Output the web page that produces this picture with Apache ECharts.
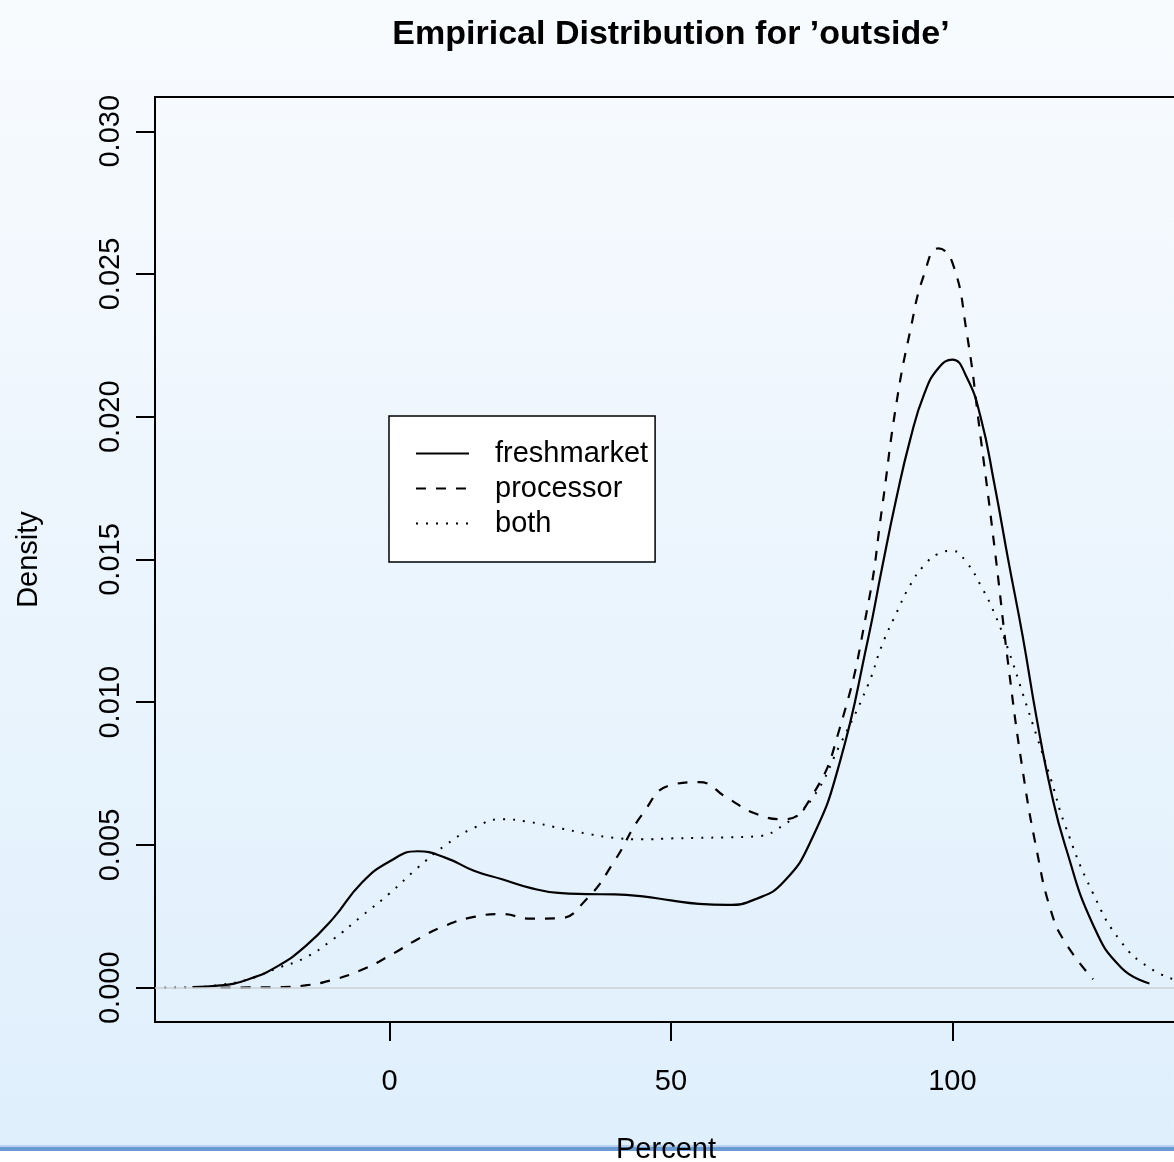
<!DOCTYPE html>
<html>
<head>
<meta charset="utf-8">
<script src="https://cdn.jsdelivr.net/npm/echarts@6/dist/echarts.min.js"></script>
<style>
  html, body { margin: 0; padding: 0; background: #fff; }
  #chart { width: 1174px; height: 1162px; }
</style>
</head>
<body>
<div id="chart"></div>
<script>
  var xs = [-40, -35, -30, -25, -20, -15, -10, -5, 0, 5, 10, 15, 20, 25, 30, 35, 40, 45, 50, 55, 60, 65, 70, 75, 80, 85,
    87.5, 90, 92.5, 95, 97.5, 100, 102.5, 105, 107.5, 110, 112.5, 115, 117.5, 120, 125, 130, 135, 140]

  var freshmarket = [null, 0.00002, 0.00008, 0.0003, 0.00074, 0.00144, 0.00243, 0.00366, 0.00442, 0.00478, 0.00455,
    0.0041, 0.0038, 0.0035, 0.00332, 0.00328, 0.00327, 0.0032, 0.00306, 0.00294, 0.0029, 0.0031, 0.0037, 0.0052,
    0.0079, 0.0122, 0.0147, 0.0171, 0.0192, 0.0208, 0.0217, 0.0220, 0.0214, 0.0200, 0.0176, 0.0149, 0.0123, 0.0094,
    0.0069, 0.0050, 0.0022, 0.0007, 0.00015, null]

  var processor = [null, null, 0.0, 0.00001, 0.00002, 0.00008, 0.00028, 0.00062, 0.00112, 0.0017, 0.00218, 0.00248,
    0.00258, 0.00242, 0.00243, 0.0031, 0.00445, 0.0061, 0.0071, 0.0072, 0.00665, 0.0061, 0.0059, 0.0067, 0.0091,
    0.0134, 0.0168, 0.0204, 0.0230, 0.0250, 0.0259, 0.0254, 0.0230, 0.0193, 0.0154, 0.0112, 0.0076, 0.0048, 0.0027,
    0.0016, 0.0003, null, null, null]

  var both = [0.0, 0.00002, 0.0001, 0.0003, 0.00068, 0.00105, 0.0017, 0.0025, 0.0033, 0.0042, 0.0050, 0.0056, 0.0059,
    0.0058, 0.0056, 0.0054, 0.00525, 0.0052, 0.00523, 0.00525, 0.00527, 0.0053, 0.0057, 0.0066, 0.0085, 0.0106,
    0.0120, 0.0131, 0.0141, 0.0148, 0.0152, 0.0153, 0.0149, 0.0141, 0.0131, 0.0118, 0.0103, 0.0088, 0.0073, 0.0057,
    0.0033, 0.0016, 0.0007, 0.00025]

  var xTicks = [0, 50, 100]
  var yTicks = [0, 0.005, 0.01, 0.015, 0.02, 0.025, 0.03]

  var font = 'Liberation Sans, Arial, Helvetica, sans-serif'

  function pairs(arr) {
    var out = []
    for (var i = 0; i < xs.length; i++) {
      if (arr[i] != null) out.push([xs[i], arr[i]])
    }
    return out
  }

  var chart = echarts.init(document.getElementById('chart'), null, { renderer: 'canvas' })

  var option = {
    animation: false,
    graphic: [
      {
        type: 'rect', z: -100, silent: true,
        shape: { x: 0, y: 0, width: 1174, height: 1147 },
        style: {
          fill: new echarts.graphic.LinearGradient(0, 0, 0, 1, [
            { offset: 0, color: '#f8fbfe' },
            { offset: 1, color: '#dfeffc' }
          ])
        }
      },
      { type: 'rect', z: -100, silent: true, shape: { x: 0, y: 1145, width: 1174, height: 2 }, style: { fill: '#b7d1ee' } },
      { type: 'rect', z: -100, silent: true, shape: { x: 0, y: 1147, width: 1174, height: 4 }, style: { fill: '#6b9bd3' } },
      { type: 'rect', z: -100, silent: true, shape: { x: 0, y: 1151, width: 1174, height: 11 }, style: { fill: '#ffffff' } }
    ],
    title: {
      text: 'Empirical Distribution for \u2019outside\u2019',
      left: 666,
      top: 13,
      textAlign: 'center',
      textStyle: { fontFamily: font, fontSize: 34, fontWeight: 'bold', color: '#000' }
    },
    legend: {
      orient: 'vertical',
      left: 389,
      top: 416,
      padding: [23, 7, 24, 26],
      itemWidth: 53,
      itemHeight: 29,
      itemGap: 6,
      backgroundColor: '#ffffff',
      borderColor: '#000',
      borderWidth: 1.5,
      borderRadius: 0,
      // hide the marker so only the line pattern shows
      itemStyle: { color: 'rgba(0,0,0,0)', borderWidth: 0, opacity: 0 },
      textStyle: { fontFamily: font, fontSize: 29, color: '#000', padding: [0, 0, 0, 21] },
      data: ['freshmarket', 'processor', 'both']
    },
    grid: {
      left: 155,
      right: -3,
      top: 97,
      bottom: 140,
      outerBoundsMode: 'none',
      show: true,
      borderColor: '#000',
      borderWidth: 2,
      backgroundColor: 'transparent'
    },
    xAxis: {
      type: 'value',
      min: -41.65,
      max: 139.9,
      name: 'Percent',
      nameLocation: 'middle',
      nameGap: 113,
      nameTextStyle: { fontFamily: font, fontSize: 29, color: '#000' },
      axisLine: { show: true, onZero: false, lineStyle: { color: '#000', width: 2 } },
      axisTick: { show: true, inside: false, length: 19, customValues: xTicks, lineStyle: { color: '#000', width: 2 } },
      axisLabel: { customValues: xTicks, margin: 45, fontFamily: font, fontSize: 29, color: '#000' },
      splitLine: { show: false }
    },
    yAxis: {
      type: 'value',
      min: -0.0012,
      max: 0.0312,
      name: 'Density',
      nameLocation: 'middle',
      nameRotate: 90,
      nameGap: 112,
      nameTextStyle: { fontFamily: font, fontSize: 29, color: '#000' },
      axisLine: { show: true, onZero: false, lineStyle: { color: '#000', width: 2 } },
      axisTick: { show: true, inside: false, length: 19, customValues: yTicks, lineStyle: { color: '#000', width: 2 } },
      axisLabel: {
        customValues: yTicks,
        rotate: 90,
        margin: 30,
        fontFamily: font,
        fontSize: 29,
        color: '#000',
        formatter: function (v) { return v.toFixed(3) }
      },
      splitLine: { show: false }
    },
    series: [
      {
        name: 'freshmarket',
        type: 'line',
        data: pairs(freshmarket),
        smooth: 0.5,
        symbol: 'none',
        lineStyle: { color: '#000', width: 2.2, type: 'solid' },
        itemStyle: { color: '#000' },
        markLine: {
          silent: true,
          symbol: 'none',
          label: { show: false },
          lineStyle: { color: '#cdd0d4', width: 1.5, type: 'solid' },
          data: [{ yAxis: 0 }]
        }
      },
      {
        name: 'processor',
        type: 'line',
        data: pairs(processor),
        smooth: 0.5,
        symbol: 'none',
        lineStyle: { color: '#000', width: 2.2, type: [10, 10] },
        itemStyle: { color: '#000' }
      },
      {
        name: 'both',
        type: 'line',
        data: pairs(both),
        smooth: 0.5,
        symbol: 'none',
        lineStyle: { color: '#000', width: 2, type: [2, 8] },
        itemStyle: { color: '#000' }
      }
    ]
  }

  chart.setOption(option)
</script>
</body>
</html>
